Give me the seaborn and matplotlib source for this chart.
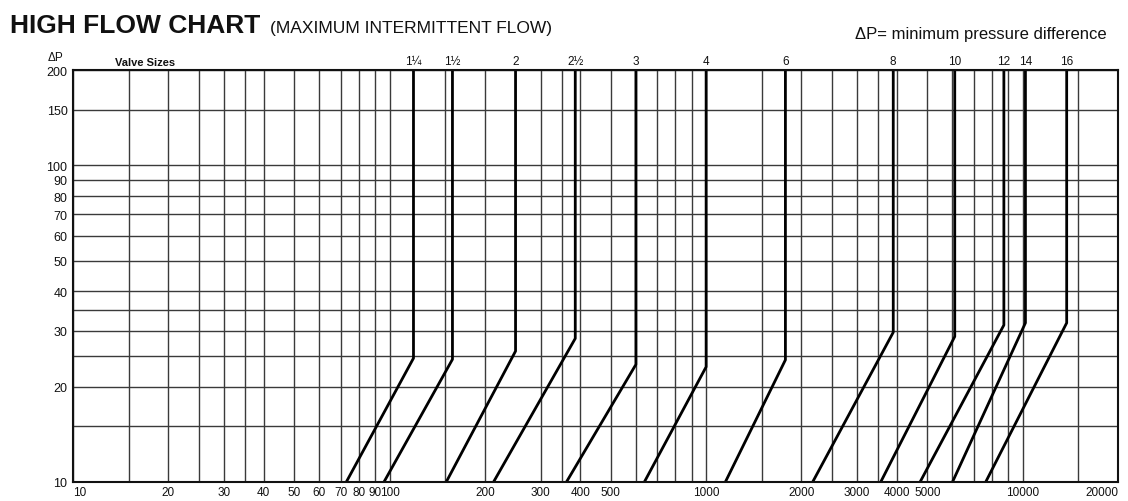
import numpy as np
import pandas as pd
import matplotlib
matplotlib.use("Agg")
import matplotlib.pyplot as plt
import seaborn as sns
from matplotlib.ticker import NullFormatter
from matplotlib.transforms import blended_transform_factory

# ---------------- data ----------------
valve_sizes = ["1¼", "1½", "2", "2½", "3", "4", "6", "8", "10", "12", "14", "16"]
flow_at_min_dp = [73, 96, 151, 213, 362, 638, 1150, 2170, 3560, 4740, 6000, 7640]
knee_flow = [119, 158, 250, 386, 600, 1000, 1780, 3900, 6100, 8720, 10200, 13770]
knee_dp = [24.6, 24.4, 25.9, 28.4, 23.5, 23.1, 24.3, 29.7, 28.8, 31.3, 31.8, 31.8]
dp_min, dp_max = 10, 200
flow_min, flow_max = 10, 20000

x_major = [10, 20, 30, 40, 50, 60, 70, 80, 90, 100, 200, 300, 400, 500,
           1000, 2000, 3000, 4000, 5000, 10000, 20000]
x_minor = [15, 25, 35, 150, 350, 600, 700, 800, 900, 1500, 2500, 3500,
           6000, 7000, 8000, 9000, 15000]
y_major = [10, 20, 30, 40, 50, 60, 70, 80, 90, 100, 150, 200]
y_minor = [15, 25, 35]

rows = []
for i, v in enumerate(valve_sizes):
    rows.append({"valve": v, "order": 0, "flow": flow_at_min_dp[i], "dp": dp_min})
    rows.append({"valve": v, "order": 1, "flow": knee_flow[i], "dp": knee_dp[i]})
    rows.append({"valve": v, "order": 2, "flow": knee_flow[i], "dp": dp_max})
df = pd.DataFrame(rows)

# ---------------- style ----------------
sns.set_theme(style="white")
plt.rcParams["font.family"] = ["Liberation Sans", "DejaVu Sans"]

W, H = 1128, 502
fig = plt.figure(figsize=(W / 100, H / 100), dpi=100)
ax = fig.add_axes([73 / W, 19 / H, (1118 - 73) / W, (483 - 71) / H])

ax.set_xscale("log")
ax.set_yscale("log")

sns.lineplot(data=df, x="flow", y="dp", units="valve", estimator=None,
             sort=False, color="black", linewidth=2.0, ax=ax, legend=False)

ax.set_xlim(flow_min, flow_max)
ax.set_ylim(dp_min, dp_max)

ax.set_xticks(x_major, labels=[str(v) for v in x_major])
ax.set_xticks(x_minor, minor=True)
ax.set_yticks(y_major, labels=[str(v) for v in y_major])
ax.set_yticks(y_minor, minor=True)
ax.xaxis.set_minor_formatter(NullFormatter())
ax.yaxis.set_minor_formatter(NullFormatter())

ax.tick_params(which="both", length=0)
ax.tick_params(axis="x", labelsize=8.5, pad=3, colors="#111111")
ax.tick_params(axis="y", labelsize=9, pad=4, colors="#111111")
for lab in ax.get_xticklabels():
    if lab.get_text() == "10":
        lab.set_horizontalalignment("left")
    if lab.get_text() == "20000":
        lab.set_horizontalalignment("right")

ax.grid(which="both", color="#3a3a3a", linewidth=1.0)
ax.set_axisbelow(True)
for s in ax.spines.values():
    s.set_visible(True)
    s.set_color("#111111")
    s.set_linewidth(1.5)
ax.set_xlabel("")
ax.set_ylabel("")

# valve size labels above the plot
trans = blended_transform_factory(ax.transData, ax.transAxes)
for v, kx in zip(valve_sizes, knee_flow):
    ax.text(kx, 1.008, v, transform=trans, ha="center", va="bottom",
            fontsize=8.5, color="#111111")
ax.text(0.040, 1.008, "Valve Sizes", transform=ax.transAxes, ha="left",
        va="bottom", fontsize=8, fontweight="bold", color="#111111")

# titles
fig.text(10 / W, 1 - 33 / H, "HIGH FLOW CHART", fontsize=19,
         fontweight="bold", ha="left", va="baseline", color="#111111")
fig.text(270 / W, 1 - 33 / H, "(MAXIMUM INTERMITTENT FLOW)", fontsize=12.5,
         ha="left", va="baseline", color="#111111")
fig.text(1107 / W, 1 - 39 / H, "ΔP= minimum pressure difference",
         fontsize=12, ha="right", va="baseline", color="#111111")
fig.text(56 / W, 1 - 58 / H, "ΔP", fontsize=8.5, ha="center", va="center",
         color="#111111")

fig.savefig("out.png", dpi=100, facecolor="white")
